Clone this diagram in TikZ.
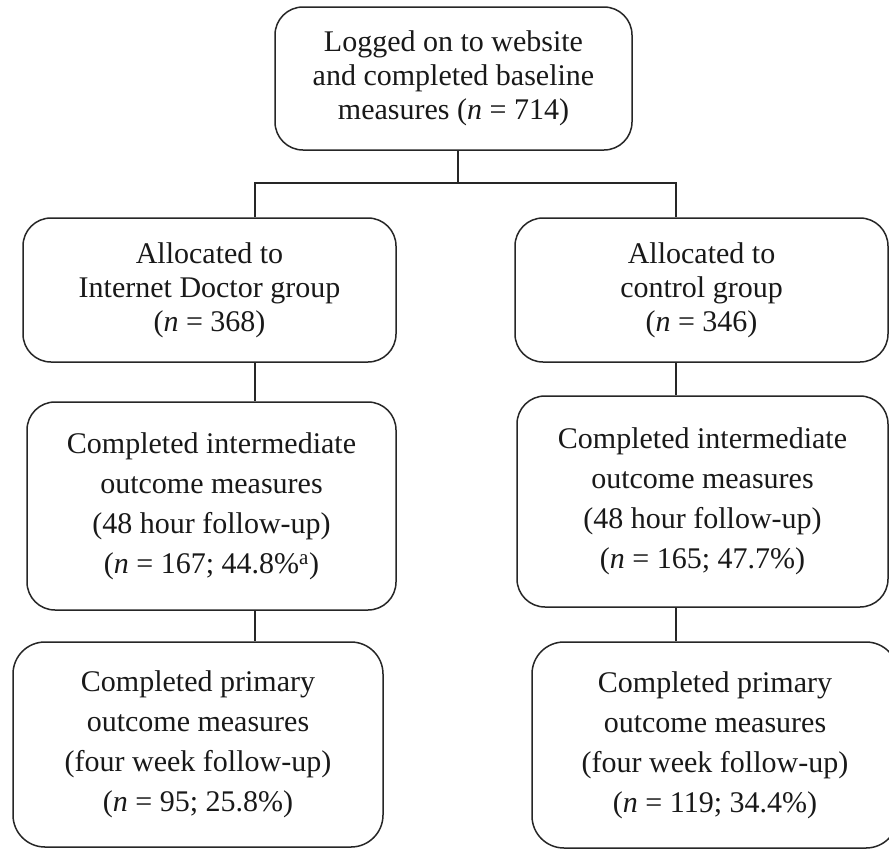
\documentclass[tikz,border=0pt]{standalone}
\usepackage{fontspec}
\setmainfont{Liberation Serif}
\begin{document}
\begin{tikzpicture}[x=1pt,y=-1pt,
  box/.style={draw=black!85, line width=1.5pt, rounded corners=28pt, inner sep=0pt,
    align=center, text=black!90, font=\fontsize{30}{34}\selectfont},
  tall/.style={font=\fontsize{30}{40}\selectfont},
  conn/.style={draw=black!85, line width=1.5pt}]
\clip (0,0) rectangle (889,849);
\useasboundingbox (0,0) rectangle (889,849);
\fill[white] (0,0) rectangle (889,849);

\node[box, minimum width=357pt, minimum height=143pt] (top) at (453.5,78.5)
  {Logged on to website\\and completed baseline\\measures (\textit{n} = 714)};

\node[box, minimum width=373pt, minimum height=144pt] (b1l) at (209.5,290)
  {Allocated to\\Internet Doctor group\\(\textit{n} = 368)};
\node[box, minimum width=373pt, minimum height=144pt] (b1r) at (701.5,290)
  {Allocated to\\control group\\(\textit{n} = 346)};

\node[box, tall, minimum width=369pt, minimum height=208pt] (b2l) at (211.5,506)
  {Completed intermediate\\outcome measures\\(48 hour follow-up)\\(\textit{n} = 167; 44.8\%\textsuperscript{a})};
\node[box, tall, minimum width=371pt, minimum height=211pt] (b2r) at (702.5,501.5)
  {Completed intermediate\\outcome measures\\(48 hour follow-up)\\(\textit{n} = 165; 47.7\%)};

\node[box, tall, rounded corners=32pt, minimum width=370pt, minimum height=205pt] (b3l) at (198,744.5)
  {Completed primary\\outcome measures\\(four week follow-up)\\(\textit{n} = 95; 25.8\%)};
\node[box, tall, rounded corners=32pt, minimum width=366pt, minimum height=206pt] (b3r) at (715,745)
  {Completed primary\\outcome measures\\(four week follow-up)\\(\textit{n} = 119; 34.4\%)};

\coordinate (j) at (458,183);
\coordinate (jl) at (255,183);
\coordinate (jr) at (676,183);

\draw[conn] (top.south -| j) -- (j);
\draw[conn] (b1l.north -| jl) -- (jl) -- (jr) -- (b1r.north -| jr);
\draw[conn] (b1l.south -| jl) -- (b2l.north -| jl);
\draw[conn] (b2l.south -| jl) -- (b3l.north -| jl);
\draw[conn] (b1r.south -| jr) -- (b2r.north -| jr);
\draw[conn] (b2r.south -| jr) -- (b3r.north -| jr);
\end{tikzpicture}
\end{document}
